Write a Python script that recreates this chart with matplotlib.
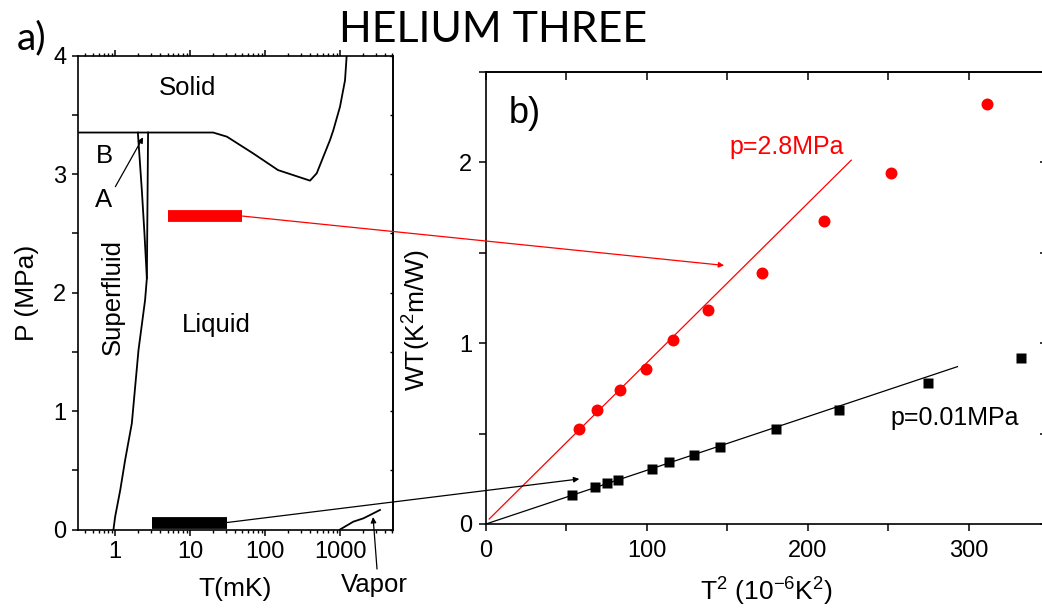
import matplotlib
matplotlib.use('Agg')
import matplotlib.pyplot as plt
from matplotlib.patches import ConnectionPatch
from matplotlib.ticker import MultipleLocator, LogLocator, NullFormatter

plt.rcParams['font.family'] = ['Liberation Sans', 'DejaVu Sans']
plt.rcParams['mathtext.fontset'] = 'custom'
plt.rcParams['mathtext.rm'] = 'Liberation Sans'
plt.rcParams['mathtext.it'] = 'Liberation Sans:italic'

# ---- panel a) He-3 phase diagram, T in mK, P in MPa
melt_T = [0.32, 20.3, 31, 69, 149, 398, 489, 736, 815, 1000, 1166, 1228]
melt_P = [3.35, 3.35, 3.315, 3.175, 3.033, 2.944, 3.006, 3.287, 3.37, 3.568, 3.79, 4.0]
tc_T = [2.75, 2.65, 2.51, 2.05, 1.67, 1.36, 1.17, 1.0, 0.95]
tc_P = [3.35, 2.12, 1.937, 1.515, 0.896, 0.587, 0.333, 0.108, 0.0]
ab_T = [2.01, 2.27, 2.46, 2.65]
ab_P = [3.349, 2.865, 2.50, 2.12]
vap_T = [1000, 1504, 2044, 2512, 3415]
vap_P = [0.0, 0.066, 0.094, 0.122, 0.165]
red_bar_T = [5.1, 50]
red_bar_P = 2.645
black_bar_T = [3.1, 31]
black_bar_P = 0.059

# ---- panel b) WT vs T^2
t2_low = [53.4, 67.9, 75.1, 82.2, 103.1, 114.0, 129.3, 145.3, 180.2, 219.1, 274.8, 332.3]
wt_low = [0.161, 0.204, 0.226, 0.246, 0.306, 0.343, 0.383, 0.428, 0.524, 0.631, 0.778, 0.920]
t2_high = [58.0, 69.0, 83.2, 99.2, 116.0, 137.7, 171.8, 209.9, 251.4, 311.2]
wt_high = [0.528, 0.633, 0.741, 0.856, 1.019, 1.186, 1.390, 1.678, 1.941, 2.324]
# linear fits: slope, intercept, x-range
fit_high = (0.00882, 0.010, [2, 227])
fit_low = (0.00297, 0.0, [0, 293])

fig = plt.figure(figsize=(10.42, 6.14), dpi=100)
axL = fig.add_axes([0.0749, 0.1376, 0.3023, 0.772])
axR = fig.add_axes([0.4664, 0.1466, 0.5374, 0.7362])

lw_sp = 1.2
for ax in (axL, axR):
    for s in ax.spines.values():
        s.set_linewidth(lw_sp)

# -------- left panel
axL.set_xscale('log')
axL.set_xlim(0.32, 5100)
axL.set_ylim(0, 4)
axL.plot(melt_T, melt_P, color='black', lw=1.3)
axL.plot(tc_T, tc_P, color='black', lw=1.3)
axL.plot(ab_T, ab_P, color='black', lw=1.3)
axL.plot(vap_T, vap_P, color='black', lw=1.3)
axL.plot(red_bar_T, [red_bar_P] * 2, color='red', lw=8.5, solid_capstyle='butt')
axL.plot(black_bar_T, [black_bar_P] * 2, color='black', lw=8.5, solid_capstyle='butt')

axL.xaxis.set_major_locator(LogLocator(base=10, numticks=10))
axL.xaxis.set_minor_locator(LogLocator(base=10, subs=range(2, 10), numticks=20))
axL.xaxis.set_minor_formatter(NullFormatter())
axL.set_xticks([1, 10, 100, 1000])
axL.set_xticklabels(['1', '10', '100', '1000'])
axL.yaxis.set_major_locator(MultipleLocator(1))
axL.yaxis.set_minor_locator(MultipleLocator(0.5))
axL.tick_params(axis='x', which='major', direction='out', length=4, width=1.1,
                labelsize=17, pad=4, top=True)
axL.tick_params(axis='x', which='minor', direction='out', length=2.3, width=1.0, top=True)
axL.tick_params(axis='y', which='both', direction='out', length=4.5, width=1.1,
                labelsize=17, pad=4)
secL = axL.secondary_yaxis('right')
secL.yaxis.set_major_locator(MultipleLocator(0.5))
secL.tick_params(direction='in', length=2.5, width=1.0, labelright=False)
secL.spines['right'].set_linewidth(lw_sp)

axL.set_xlabel('T(mK)', fontsize=19, labelpad=10)
axL.set_ylabel('P (MPa)', fontsize=19, labelpad=10)

axL.text(9.1, 3.726, 'Solid', fontsize=18.5, ha='center', va='center')
axL.text(0.71, 3.15, 'B', fontsize=18.5, ha='center', va='center')
axL.annotate('A', xy=(2.36, 3.31), xytext=(0.71, 2.78), fontsize=18.5,
             ha='center', va='center',
             arrowprops=dict(arrowstyle='-|>', color='black', lw=0.9,
                             mutation_scale=8, shrinkA=0, shrinkB=0, relpos=(1.0, 0.85)))
axL.text(0.94, 1.96, 'Superfluid', fontsize=18.5, ha='center', va='center', rotation=90)
axL.text(22.2, 1.73, 'Liquid', fontsize=18.5, ha='center', va='center')
axL.annotate('Vapor', xy=(2760, 0.105), xytext=(2840, -0.47), fontsize=18.5,
             ha='center', va='center', annotation_clip=False,
             arrowprops=dict(arrowstyle='-|>', color='black', lw=0.9,
                             mutation_scale=8, shrinkA=1, shrinkB=0, relpos=(0.55, 1.0)))

# -------- right panel
axR.set_xlim(0, 348)
axR.set_ylim(0, 2.5)
s_h, b_h, xr_h = fit_high
s_l, b_l, xr_l = fit_low
axR.plot(xr_h, [s_h * x + b_h for x in xr_h], color='red', lw=0.9)
axR.plot(xr_l, [s_l * x + b_l for x in xr_l], color='black', lw=0.9)
axR.plot(t2_high, wt_high, 'o', color='red', ms=8.6, mec='none', clip_on=False)
axR.plot(t2_low, wt_low, 's', color='black', ms=7.2, mec='none', clip_on=False)

axR.xaxis.set_major_locator(MultipleLocator(100))
axR.xaxis.set_minor_locator(MultipleLocator(50))
axR.yaxis.set_major_locator(MultipleLocator(1))
axR.yaxis.set_minor_locator(MultipleLocator(0.5))
axR.tick_params(axis='x', which='both', direction='out', length=4.8, width=1.1,
                labelsize=17, pad=7)
axR.tick_params(axis='y', which='both', direction='out', length=4.8, width=1.1,
                labelsize=17, pad=5)
secT = axR.secondary_xaxis('top')
secT.xaxis.set_major_locator(MultipleLocator(50))
secT.tick_params(direction='in', length=5.5, width=1.1, labeltop=False)
secT.spines['top'].set_linewidth(lw_sp)
secR = axR.secondary_yaxis('right')
secR.yaxis.set_major_locator(MultipleLocator(0.5))
secR.tick_params(direction='in', length=4, width=1.1, labelright=False)

axR.set_xlabel('T$^2$ (10$^{-6}$K$^2$)', fontsize=19, labelpad=10)
axR.set_ylabel('WT(K$^2$m/W)', fontsize=19)
axR.yaxis.set_label_coords(-0.095, 0.451)

axR.text(0.0696, 0.909, 'b)', transform=axR.transAxes, fontsize=26,
         ha='center', va='center')
axR.text(151.4, 2.083, 'p=2.8MPa', color='red', fontsize=18, ha='left', va='center')
axR.text(251.4, 0.588, 'p=0.01MPa', color='black', fontsize=18, ha='left', va='center')

# -------- arrows from the bars in a) to the data in b)
con_red = ConnectionPatch(xyA=(red_bar_T[1], red_bar_P), coordsA=axL.transData,
                          xyB=(148, 1.43), coordsB=axR.transData,
                          arrowstyle='-|>', color='red', lw=0.9, mutation_scale=8,
                          shrinkA=0, shrinkB=0)
fig.add_artist(con_red)
con_blk = ConnectionPatch(xyA=(black_bar_T[1], black_bar_P), coordsA=axL.transData,
                          xyB=(58, 0.249), coordsB=axR.transData,
                          arrowstyle='-|>', color='black', lw=0.9, mutation_scale=8,
                          shrinkA=0, shrinkB=0)
fig.add_artist(con_blk)

fig.text(0.4736, 0.951, 'HELIUM THREE', fontsize=31, family=['Lato', 'DejaVu Sans'],
         ha='center', va='center')
fig.text(0.0302, 0.937, 'a)', fontsize=28, family=['Lato', 'DejaVu Sans'],
         ha='center', va='center')

fig.savefig('out.png', dpi=100)
